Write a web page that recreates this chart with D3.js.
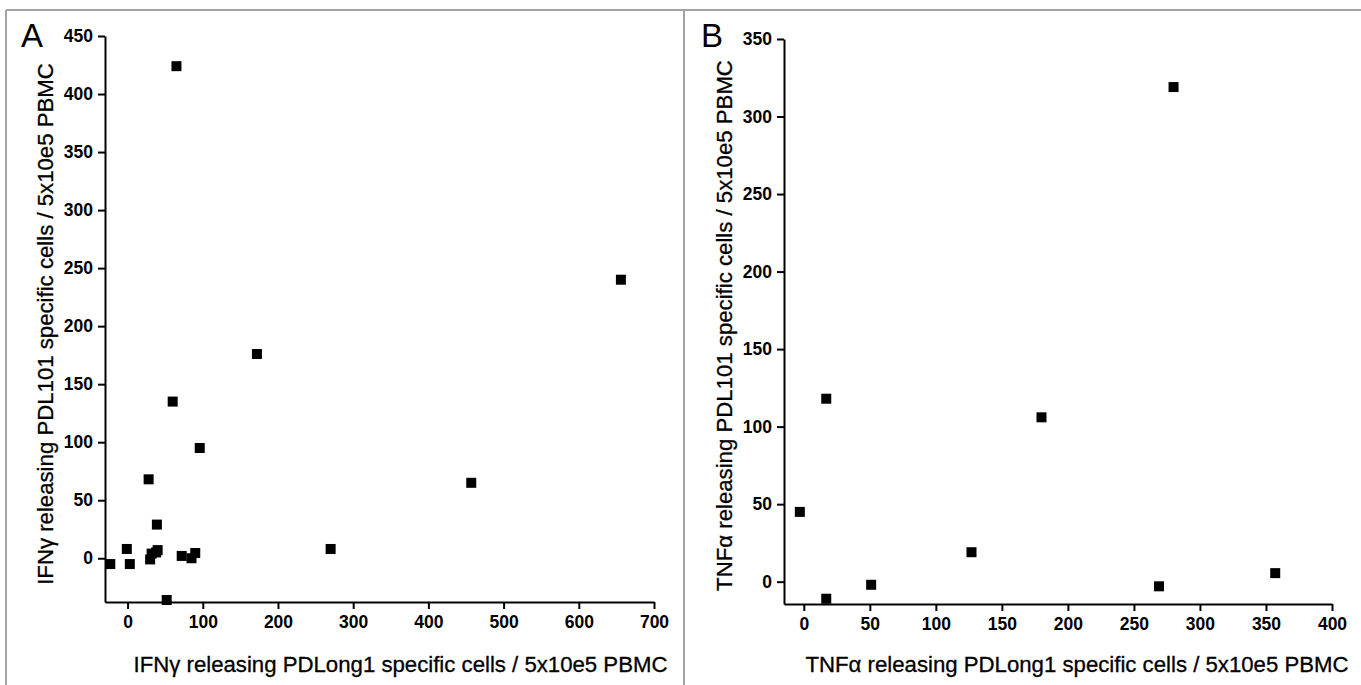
<!DOCTYPE html>
<html>
<head>
<meta charset="utf-8">
<script src="https://cdn.jsdelivr.net/npm/d3@7"></script>
<style>
  html, body { margin: 0; padding: 0; background: #fff; }
  svg { display: block; font-family: "Liberation Sans", Arial, sans-serif; }
  .tick text { font-size: 17.5px; font-weight: bold; fill: #000; }
  .title { font-size: 22.2px; fill: #000; stroke: #000; stroke-width: 0.3px; }
  .letter { font-size: 33px; fill: #000; }
</style>
</head>
<body>
<svg id="chart" width="1361" height="685"></svg>
<script>
// Panel A: IFN-gamma spot counts (PDLong1 on x, PDL101 on y)
const ifnX = [-23, -1, 3, 28, 39, 30, 32, 38, 40, 60, 65, 96, 72, 85, 90, 52, 270, 172, 457, 656];
const ifnY = [-5, 8, -5, 68, 29, -1, 4, 5, 7, 135, 424, 95, 2, 0, 4.5, -36, 8, 176, 65, 240];
const ifnXTicks = [0, 100, 200, 300, 400, 500, 600, 700];
const ifnYTicks = [0, 50, 100, 150, 200, 250, 300, 350, 400, 450];

// Panel B: TNF-alpha spot counts
const tnfX = [-3, 17, 17, 51, 127, 180, 269, 357, 280];
const tnfY = [45, 118, -11, -2, 19, 106, -3, 5.5, 319];
const tnfXTicks = [0, 50, 100, 150, 200, 250, 300, 350, 400];
const tnfYTicks = [0, 50, 100, 150, 200, 250, 300, 350];

const svg = d3.select("#chart");

// outer frame and panel divider
const frame = svg.append("g").attr("stroke", "#a3a3a3").attr("stroke-width", 2).attr("fill", "none");
frame.append("line").attr("x1", 6).attr("y1", 10).attr("x2", 1361).attr("y2", 10);
frame.append("line").attr("x1", 6).attr("y1", 10).attr("x2", 6).attr("y2", 685);
frame.append("line").attr("x1", 684).attr("y1", 10).attr("x2", 684).attr("y2", 685);

function panel(cfg) {
  const x = d3.scaleLinear().domain(cfg.xDomain).range(cfg.xRange);
  const y = d3.scaleLinear().domain(cfg.yDomain).range(cfg.yRange);
  const g = svg.append("g");

  const xAxis = g.append("g")
    .attr("transform", `translate(0,${cfg.yRange[0]})`)
    .call(d3.axisBottom(x).tickValues(cfg.xTicks).tickSize(7).tickSizeOuter(0).tickPadding(7).tickFormat(d3.format("d")));
  const yAxis = g.append("g")
    .attr("transform", `translate(${cfg.xRange[0]},0)`)
    .call(d3.axisLeft(y).tickValues(cfg.yTicks).tickSize(7).tickSizeOuter(0).tickPadding(5).tickFormat(d3.format("d")));
  [xAxis, yAxis].forEach(a => {
    a.attr("font-size", null).attr("font-family", null);
    a.selectAll("path, line").attr("stroke", "#000").attr("stroke-width", 2);
  });

  g.selectAll("rect.pt")
    .data(cfg.xs.map((v, i) => [v, cfg.ys[i]]))
    .join("rect")
    .attr("class", "pt")
    .attr("x", d => x(d[0]) - 5)
    .attr("y", d => y(d[1]) - 5)
    .attr("width", 10)
    .attr("height", 10)
    .attr("fill", "#000");

  g.append("text").attr("class", "title")
    .attr("text-anchor", "middle")
    .attr("x", (cfg.xRange[0] + cfg.xRange[1]) / 2 + cfg.xTitleShift)
    .attr("y", 672)
    .text(cfg.xTitle);

  const yc = (cfg.yRange[0] + cfg.yRange[1]) / 2 + cfg.yTitleShift;
  g.append("text").attr("class", "title")
    .attr("text-anchor", "middle")
    .attr("transform", `translate(${cfg.xRange[0] - 52},${yc}) rotate(-90)`)
    .text(cfg.yTitle);

  g.append("text").attr("class", "letter")
    .attr("x", cfg.letterX).attr("y", 47)
    .text(cfg.letter);
}

panel({
  xs: ifnX, ys: ifnY,
  xDomain: [-30, 700], xRange: [105, 654],
  yDomain: [-37.7, 450], yRange: [602, 36],
  xTicks: ifnXTicks, yTicks: ifnYTicks,
  xTitle: "IFNγ releasing PDLong1 specific cells / 5x10e5 PBMC",
  yTitle: "IFNγ releasing PDL101 specific cells / 5x10e5 PBMC",
  xTitleShift: 21, yTitleShift: 5,
  letter: "A", letterX: 21
});

panel({
  xs: tnfX, ys: tnfY,
  xDomain: [-15, 400], xRange: [784, 1332],
  yDomain: [-14.4, 350], yRange: [604, 39],
  xTicks: tnfXTicks, yTicks: tnfYTicks,
  xTitle: "TNFα releasing PDLong1 specific cells / 5x10e5 PBMC",
  yTitle: "TNFα releasing PDL101 specific cells / 5x10e5 PBMC",
  xTitleShift: 19, yTitleShift: 4,
  letter: "B", letterX: 701
});
</script>
</body>
</html>
